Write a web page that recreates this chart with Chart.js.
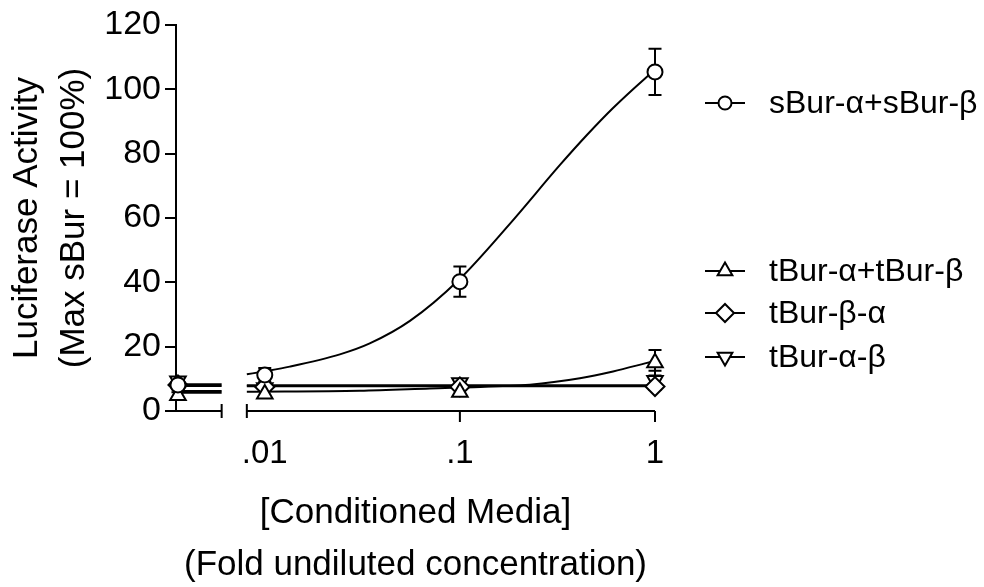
<!DOCTYPE html>
<html>
<head>
<meta charset="utf-8">
<script src="https://cdn.jsdelivr.net/npm/chart.js@4.4.1/dist/chart.umd.min.js"></script>
<style>
  body { margin: 0; background: #fff; }
  canvas { display: block; }
</style>
</head>
<body>
<canvas id="bursicon" width="984" height="587"></canvas>
<script>
// x values are log10 of the fold concentration, the control (no media) sits left of the axis break
var controlX = -2.445;
var doseX = [-2, -1, 0];
var tickText = ['.01', '.1', '1'];
var breakEnd = -2.221;    // left piece of the x axis stops here
var breakStart = -2.092;  // right piece starts here

var seriesNames = ['sBur-\u03b1+sBur-\u03b2', 'tBur-\u03b1+tBur-\u03b2', 'tBur-\u03b2-\u03b1', 'tBur-\u03b1-\u03b2'];

// means and error, order: control, .01, .1, 1
var sBurMean = [8.1, 11.2, 40.2, 105.4];
var sBurErr = [1.2, 2.2, 4.7, 7.2];
var tBurABMean = [4.8, 5.3, 5.8, 15.0];
var tBurABErr = [1.0, 1.0, 1.0, 4.0];
var tBurBAMean = [8.1, 7.5, 7.5, 7.6];
var tBurBAErr = [0.8, 0.8, 0.8, 0.8];
var tBurAmBMean = [9.3, 7.2, 8.8, 9.5];
var tBurAmBErr = [1.0, 1.0, 1.0, 3.0];

// fitted curves
var sBurFitX = [-2.092, -2.005, -1.872, -1.615, -1.462, -1.256, -1.005, -0.744, -0.487, -0.349, -0.215, -0.051, 0];
var sBurFitY = [11.4, 12.3, 13.8, 17.6, 21.0, 28.0, 40.8, 58.2, 76.5, 85.8, 94.2, 103.4, 106.0];
var tBurABFitX = [-2.092, -1.513, -1.154, -1.005, -0.641, -0.385, -0.215, -0.051, 0];
var tBurABFitY = [6.0, 6.3, 7.0, 7.3, 8.2, 10.2, 12.3, 14.8, 15.6];
var flatFitX = [-2.092, 0];
var tBurBAFitY = [7.7, 7.7];
var tBurAmBFitY = [8.0, 8.0];

// short level lines left of the break: sBur, tBur-b-a, tBur-a-b, tBur-a+b
var leftFitX = [controlX, breakEnd];
var leftFitY = [8.3, 7.8, 6.2, 5.7];

var FONT = "'Liberation Sans', Arial, sans-serif";
Chart.defaults.font.family = FONT;
Chart.defaults.color = '#000';

function points(mean) {
  var xs = [controlX].concat(doseX);
  return xs.map(function(x, i) { return {x: x, y: mean[i]}; });
}
function curve(xs, ys) {
  return xs.map(function(x, i) { return {x: x, y: ys[i]}; });
}
function pointSet(i, mean, err, style, radius, rot) {
  return {
    label: seriesNames[i],
    data: points(mean),
    errorBars: err,
    showLine: false,
    pointStyle: style,
    pointRotation: rot || 0,
    pointRadius: radius,
    pointHoverRadius: radius,
    pointBorderWidth: 2,
    pointBackgroundColor: '#fff',
    pointBorderColor: '#000',
    borderColor: '#000',
    clip: false,
    order: 0
  };
}
function fitSet(data) {
  return {
    data: data,
    showLine: true,
    pointRadius: 0,
    borderColor: '#000',
    borderWidth: 2,
    cubicInterpolationMode: 'monotone',
    clip: false,
    order: 1
  };
}

var errorBarPlugin = {
  id: 'errorBars',
  beforeDatasetsDraw: function(chart) {
    var ctx = chart.ctx, xs = chart.scales.x, ys = chart.scales.y;
    ctx.save();
    ctx.strokeStyle = '#000';
    ctx.lineWidth = 2;
    chart.data.datasets.forEach(function(ds) {
      if (!ds.errorBars) return;
      ds.data.forEach(function(p, i) {
        var e = ds.errorBars[i];
        var px = xs.getPixelForValue(p.x);
        var top = ys.getPixelForValue(p.y + e);
        var bot = ys.getPixelForValue(p.y - e);
        ctx.beginPath();
        ctx.moveTo(px, top); ctx.lineTo(px, bot);
        ctx.moveTo(px - 6.5, top); ctx.lineTo(px + 6.5, top);
        ctx.moveTo(px - 6.5, bot); ctx.lineTo(px + 6.5, bot);
        ctx.stroke();
      });
    });
    ctx.restore();
  }
};

// x axis drawn in two pieces with a gap for the break
var brokenAxisPlugin = {
  id: 'brokenAxis',
  beforeDatasetsDraw: function(chart) {
    var ctx = chart.ctx, xs = chart.scales.x, ys = chart.scales.y;
    var y0 = ys.getPixelForValue(0);
    var a = chart.chartArea.left;
    var b = xs.getPixelForValue(breakEnd);
    var c = xs.getPixelForValue(breakStart);
    var d = xs.getPixelForValue(0);
    ctx.save();
    ctx.strokeStyle = '#000';
    ctx.lineWidth = 2;
    ctx.beginPath();
    ctx.moveTo(a, y0); ctx.lineTo(b, y0);
    ctx.moveTo(b, y0 - 7); ctx.lineTo(b, y0 + 7);
    ctx.moveTo(c, y0); ctx.lineTo(d, y0);
    ctx.moveTo(c, y0 - 7); ctx.lineTo(c, y0 + 7);
    // tick marks at .1 and 1
    doseX.slice(1).forEach(function(v) {
      var px = xs.getPixelForValue(v);
      ctx.moveTo(px, y0); ctx.lineTo(px, y0 + 11);
    });
    ctx.stroke();
    ctx.restore();
  }
};

var sideLegendPlugin = {
  id: 'sideLegend',
  afterDraw: function(chart, args, opts) {
    var ctx = chart.ctx;
    ctx.save();
    ctx.font = '32px ' + FONT;
    ctx.textBaseline = 'middle';
    ctx.lineWidth = 2;
    ctx.strokeStyle = '#000';
    opts.rows.forEach(function(rowY, i) {
      var ds = chart.data.datasets[i];
      ctx.beginPath();
      ctx.moveTo(opts.lineStart, rowY);
      ctx.lineTo(opts.lineEnd, rowY);
      ctx.stroke();
      ctx.fillStyle = '#fff';
      Chart.helpers.drawPoint(ctx, {
        pointStyle: ds.pointStyle,
        rotation: ds.pointRotation,
        radius: opts.markerRadius[i],
        borderWidth: 2
      }, (opts.lineStart + opts.lineEnd) / 2, rowY);
      ctx.fillStyle = '#000';
      ctx.fillText(ds.label, opts.textX, rowY + 1);
    });
    ctx.restore();
  }
};

var data = {
  datasets: [
    pointSet(0, sBurMean, sBurErr, 'circle', 7.5),
    pointSet(1, tBurABMean, tBurABErr, 'triangle', 9),
    pointSet(2, tBurBAMean, tBurBAErr, 'rectRot', 9.5),
    pointSet(3, tBurAmBMean, tBurAmBErr, 'triangle', 9, 180),
    fitSet(curve(sBurFitX, sBurFitY)),
    fitSet(curve(tBurABFitX, tBurABFitY)),
    fitSet(curve(flatFitX, tBurBAFitY)),
    fitSet(curve(flatFitX, tBurAmBFitY)),
    fitSet(curve(leftFitX, [leftFitY[0], leftFitY[0]])),
    fitSet(curve(leftFitX, [leftFitY[1], leftFitY[1]])),
    fitSet(curve(leftFitX, [leftFitY[2], leftFitY[2]])),
    fitSet(curve(leftFitX, [leftFitY[3], leftFitY[3]]))
  ]
};

var config = {
  type: 'scatter',
  data: data,
  plugins: [errorBarPlugin, brokenAxisPlugin, sideLegendPlugin],
  options: {
    responsive: false,
    animation: false,
    events: [],
    layout: { padding: { top: 25, right: 329, bottom: 0, left: 0 } },
    plugins: {
      legend: { display: false },
      tooltip: { enabled: false },
      sideLegend: {
        rows: [103, 271, 313, 357],
        markerRadius: [6.5, 8.5, 9, 8.5],
        lineStart: 705,
        lineEnd: 745,
        textX: 769
      }
    },
    scales: {
      x: {
        type: 'linear',
        min: -2.455,
        max: 0,
        afterBuildTicks: function(s) {
          s.ticks = doseX.map(function(v) { return {value: v}; });
        },
        afterFit: function(s) { s.height = 176; },
        border: { display: false },
        grid: { display: false, drawTicks: false },
        ticks: {
          font: { size: 33 },
          padding: 23,
          maxRotation: 0,
          callback: function(v) { return tickText[doseX.indexOf(v)]; }
        },
        title: {
          display: true,
          text: ['[Conditioned Media]', '(Fold undiluted concentration)'],
          font: { size: 35, lineHeight: '51.5px' },
          padding: { top: 0, bottom: -4 }
        }
      },
      y: {
        min: 0,
        max: 120,
        afterFit: function(s) { s.width = 176; },
        border: { display: true, color: '#000', width: 2 },
        grid: { display: true, drawOnChartArea: false, drawTicks: true, tickLength: 11, color: '#000', lineWidth: 2 },
        ticks: { stepSize: 20, font: { size: 34 }, padding: 4 },
        title: {
          display: true,
          text: ['Luciferase Activity', '(Max sBur = 100%)'],
          font: { size: 35, lineHeight: '47px' },
          padding: { top: 4, bottom: 0 }
        }
      }
    }
  }
};

var bursChart = new Chart(document.getElementById('bursicon'), config);
</script>
</body>
</html>
